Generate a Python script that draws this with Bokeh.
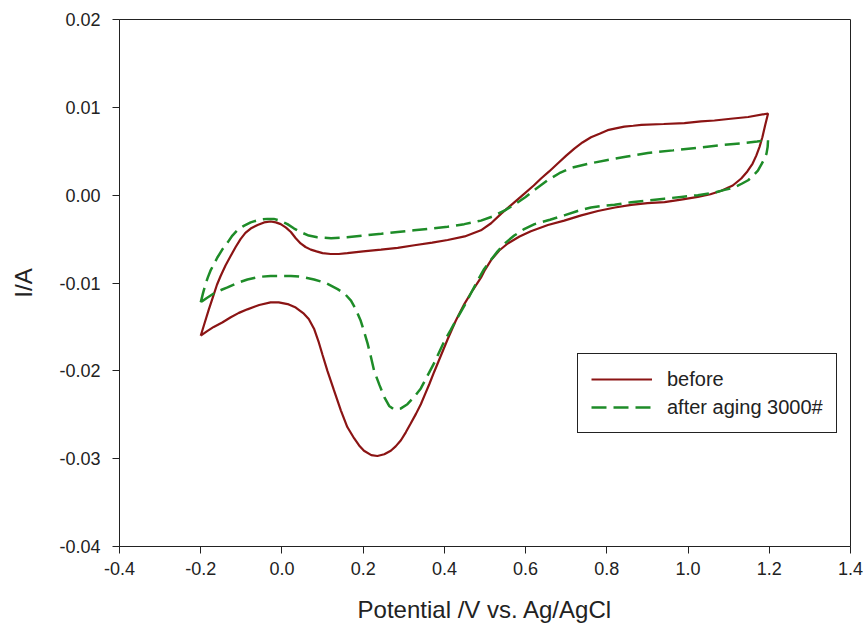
from bokeh.plotting import figure
from bokeh.models import Range1d, FixedTicker, NumeralTickFormatter, Legend, LegendItem
from bokeh.embed import file_html
from bokeh.resources import INLINE

# Cyclic voltammograms: potential (V vs. Ag/AgCl) and current (A),
# each loop starts at -0.2 V, sweeps anodically to 1.2 V and returns.
before_v = [
    -0.200, -0.190, -0.180, -0.170, -0.160, -0.151, -0.139, -0.126, -0.114, -0.102,
    -0.090, -0.077, -0.060, -0.044, -0.028, -0.015, -0.003, 0.010, 0.022, 0.034,
    0.046, 0.058, 0.071, 0.085, 0.100, 0.120, 0.140, 0.161, 0.200, 0.244,
    0.285, 0.326, 0.370, 0.408, 0.450, 0.490, 0.515, 0.540, 0.565, 0.590,
    0.620, 0.638, 0.658, 0.679, 0.700, 0.720, 0.740, 0.761, 0.782, 0.802,
    0.822, 0.843, 0.865, 0.885, 0.940, 0.991, 1.032, 1.065, 1.105, 1.148, 1.197,
    1.190, 1.183, 1.176, 1.168, 1.159, 1.146, 1.131, 1.110, 1.082, 1.055,
    1.024, 0.983, 0.942, 0.900, 0.860, 0.820, 0.778, 0.737, 0.695, 0.655,
    0.613, 0.585, 0.556, 0.535, 0.515, 0.500, 0.490, 0.470, 0.449, 0.428,
    0.408, 0.392, 0.375, 0.363, 0.353, 0.342, 0.330, 0.317, 0.305, 0.293,
    0.280, 0.268, 0.252, 0.235, 0.220, 0.202, 0.190, 0.178, 0.161, 0.145,
    0.128, 0.112, 0.100, 0.091, 0.079, 0.066, 0.054, 0.034, 0.014, -0.008,
    -0.028, -0.056, -0.085, -0.106, -0.126, -0.147, -0.168, -0.185, -0.200,
]
before_i = [
    -0.0160, -0.0145, -0.0130, -0.0116, -0.0102, -0.0092, -0.0080, -0.0069, -0.0059, -0.0050,
    -0.0043, -0.0038, -0.0034, -0.0031, -0.0030, -0.0031, -0.0033, -0.0037, -0.0042, -0.0049,
    -0.0055, -0.0059, -0.0062, -0.0064, -0.0066, -0.0067, -0.0067, -0.0066, -0.0064, -0.0062,
    -0.0060, -0.0057, -0.0054, -0.0051, -0.0047, -0.0040, -0.0032, -0.0021, -0.0011, -0.0001,
    0.0011, 0.0019, 0.0027, 0.0036, 0.0045, 0.0053, 0.0060, 0.0066, 0.0070, 0.0074,
    0.0076, 0.0078, 0.0079, 0.0080, 0.0081, 0.0082, 0.0084, 0.0085, 0.0087, 0.0089, 0.0093,
    0.0080, 0.0066, 0.0055, 0.0045, 0.0036, 0.0027, 0.0019, 0.0011, 0.0005, 0.0001,
    -0.0002, -0.0005, -0.0008, -0.0009, -0.0011, -0.0014, -0.0018, -0.0023, -0.0029, -0.0034,
    -0.0041, -0.0047, -0.0055, -0.0063, -0.0074, -0.0085, -0.0094, -0.0108, -0.0124, -0.0143,
    -0.0164, -0.0182, -0.0201, -0.0215, -0.0226, -0.0238, -0.0249, -0.0260, -0.0270, -0.0279,
    -0.0286, -0.0291, -0.0295, -0.0297, -0.0296, -0.0291, -0.0285, -0.0277, -0.0264, -0.0245,
    -0.0222, -0.0200, -0.0182, -0.0168, -0.0152, -0.0141, -0.0135, -0.0128, -0.0124, -0.0122,
    -0.0122, -0.0125, -0.0130, -0.0134, -0.0139, -0.0145, -0.0150, -0.0155, -0.0160,
]

after_v = [
    -0.200, -0.194, -0.188, -0.182, -0.176, -0.168, -0.159, -0.147, -0.134, -0.122,
    -0.110, -0.094, -0.077, -0.056, -0.036, -0.020, -0.005, 0.0135, 0.030, 0.046,
    0.066, 0.087, 0.121, 0.160, 0.202, 0.245, 0.285, 0.325, 0.367, 0.408,
    0.449, 0.490, 0.520, 0.550, 0.575, 0.600, 0.625, 0.654, 0.683, 0.712,
    0.757, 0.802, 0.850, 0.901, 0.963, 1.024, 1.080, 1.131, 1.170, 1.197,
    1.196, 1.193, 1.183, 1.172, 1.160, 1.148, 1.132, 1.115, 1.090, 1.065,
    1.024, 0.983, 0.942, 0.901, 0.860, 0.819, 0.790, 0.761, 0.728, 0.695,
    0.660, 0.622, 0.595, 0.572, 0.551, 0.531, 0.514, 0.498, 0.481, 0.465,
    0.449, 0.433, 0.416, 0.400, 0.388, 0.375, 0.358, 0.342, 0.325, 0.309,
    0.292, 0.276, 0.264, 0.252, 0.240, 0.227, 0.219, 0.211, 0.202, 0.194,
    0.182, 0.170, 0.154, 0.137, 0.108, 0.079, 0.050, 0.022, -0.003, -0.028,
    -0.056, -0.085, -0.110, -0.134, -0.150, -0.168, -0.185, -0.200,
]
after_i = [
    -0.0122, -0.0111, -0.0101, -0.0093, -0.0086, -0.0079, -0.0071, -0.0062, -0.0054, -0.0046,
    -0.0040, -0.0035, -0.0031, -0.0028, -0.0027, -0.0027, -0.0029, -0.0033, -0.0038, -0.0042,
    -0.0046, -0.0048, -0.0049, -0.0048, -0.0046, -0.0044, -0.0042, -0.0040, -0.0038, -0.0036,
    -0.0033, -0.0029, -0.0024, -0.0017, -0.0010, -0.0002, 0.0007, 0.0017, 0.0025, 0.0031,
    0.0036, 0.0040, 0.0044, 0.0048, 0.0051, 0.0054, 0.0057, 0.0059, 0.0061, 0.0063,
    0.0055, 0.0047, 0.0037, 0.0028, 0.0022, 0.0017, 0.0013, 0.0009, 0.0006, 0.0003,
    0.0000, -0.0002, -0.0004, -0.0006, -0.0008, -0.0011, -0.0012, -0.0014, -0.0018, -0.0023,
    -0.0028, -0.0033, -0.0039, -0.0046, -0.0054, -0.0064, -0.0074, -0.0084, -0.0098, -0.0112,
    -0.0126, -0.0139, -0.0153, -0.0166, -0.0178, -0.0191, -0.0206, -0.0220, -0.0230, -0.0238,
    -0.0243, -0.0244, -0.0240, -0.0230, -0.0216, -0.0200, -0.0184, -0.0169, -0.0155, -0.0143,
    -0.0130, -0.0120, -0.0112, -0.0107, -0.0100, -0.0096, -0.0093, -0.0092, -0.0092, -0.0092,
    -0.0093, -0.0096, -0.0100, -0.0105, -0.0108, -0.0112, -0.0117, -0.0122,
]

x_ticks = [-0.4, -0.2, 0.0, 0.2, 0.4, 0.6, 0.8, 1.0, 1.2, 1.4]
y_ticks = [-0.04, -0.03, -0.02, -0.01, 0.00, 0.01, 0.02]

FONT = "Liberation Sans"

p = figure(
    width=867, height=635,
    x_range=Range1d(-0.4, 1.4), y_range=Range1d(-0.04, 0.02),
    output_backend="svg", toolbar_location=None,
    min_border_left=119, min_border_right=17, min_border_top=19, min_border_bottom=89,
)
p.background_fill_color = "white"
p.border_fill_color = "white"
p.outline_line_color = "#222222"
p.outline_line_width = 1
p.outline_line_alpha = 1.0
p.xgrid.visible = False
p.ygrid.visible = False

for ax, ticks, fmt in ((p.xaxis[0], x_ticks, "0.0"), (p.yaxis[0], y_ticks, "0.00")):
    ax.ticker = FixedTicker(ticks=ticks, minor_ticks=[])
    ax.formatter = NumeralTickFormatter(format=fmt)
    ax.axis_line_color = "#222222"
    ax.major_tick_line_color = "#222222"
    ax.major_tick_in = 0
    ax.major_tick_out = 7
    ax.minor_tick_line_color = None
    ax.major_label_text_font = FONT
    ax.major_label_text_font_size = "18px"
    ax.major_label_text_color = "#222222"
    ax.axis_label_text_font = FONT
    ax.axis_label_text_font_size = "24px"
    ax.axis_label_text_font_style = "normal"
    ax.axis_label_text_color = "#222222"

p.xaxis.axis_label = "Potential /V vs. Ag/AgCl"
p.yaxis.axis_label = "I/A"
p.xaxis.major_label_standoff = 8
p.xaxis.axis_label_standoff = 18
p.yaxis.major_label_standoff = 12
p.yaxis.axis_label_standoff = 19

r_before = p.line(before_v, before_i, line_color="#8b1414", line_width=2.2)
r_after = p.line(after_v, after_i, line_color="#1e8c28", line_width=2.5, line_dash="15 7")

legend = Legend(
    items=[LegendItem(label="before", renderers=[r_before]),
           LegendItem(label="after aging 3000#", renderers=[r_after])],
    location=(458, 113),
    margin=0,
    padding=13,
    spacing=4,
    glyph_width=61,
    glyph_height=24,
    label_height=24,
    label_standoff=15,
    label_text_font=FONT,
    label_text_font_size="20px",
    label_text_color="#222222",
    border_line_color="#222222",
    border_line_width=1.5,
    border_line_alpha=1.0,
    background_fill_color="white",
    background_fill_alpha=1.0,
)
p.add_layout(legend, "center")

open("out.html", "w").write(file_html(p, INLINE))
